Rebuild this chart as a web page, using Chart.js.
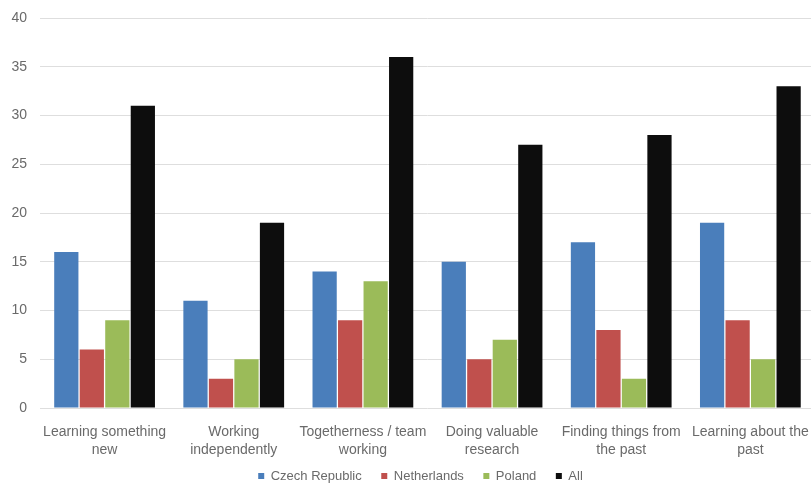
<!DOCTYPE html>
<html>
<head>
<meta charset="utf-8">
<script src="https://cdn.jsdelivr.net/npm/chart.js@4.4.1/dist/chart.umd.min.js"></script>
<style>
  html, body { margin: 0; padding: 0; background: #ffffff; overflow: hidden; }
  #wrap { width: 811px; height: 486px; overflow: hidden; }
  canvas { display: block; }
</style>
</head>
<body>
<div id="wrap"><canvas id="chart" width="824" height="486"></canvas></div>
<script>
// Categories (multi-line labels) and per-country counts
const categories = [
  ["Learning something", "new"],
  ["Working", "independently"],
  ["Togetherness / team", "working"],
  ["Doing valuable", "research"],
  ["Finding things from", "the past"],
  ["Learning about the", "past"]
];
const czechRepublic = [16, 11, 14, 15, 17, 19];
const netherlands   = [6, 3, 9, 5, 8, 9];
const poland        = [9, 5, 13, 7, 3, 5];
const allCountries  = [31, 19, 36, 27, 28, 33];
const yTicks = [0, 5, 10, 15, 20, 25, 30, 35, 40];

const textColor = '#6a6a6a';
const fontFamily = "'Liberation Sans', 'DejaVu Sans', sans-serif";

function series(label, data, color) {
  return {
    label: label,
    data: data,
    backgroundColor: color,
    borderWidth: 0,
    categoryPercentage: 0.79,
    barPercentage: 0.95
  };
}

// After layout: nudge the legend row, and let the category labels use the
// space below their (compact) axis box instead of being clipped
const layoutTweaks = {
  id: 'layoutTweaks',
  afterLayout(chart) {
    const lg = chart.legend;
    if (lg && !lg._moved) {
      lg.left += 10;
      lg.right += 10;
      lg.top += 6.5;
      lg.bottom += 6.5;
      lg._moved = true;
    }
    const xs = chart.scales.x;
    xs.bottom = chart.height;
    xs.height = xs.bottom - xs.top;
  }
};

new Chart(document.getElementById('chart'), {
  type: 'bar',
  data: {
    labels: categories,
    datasets: [
      series('Czech Republic', czechRepublic, '#4a7ebb'),
      series('Netherlands', netherlands, '#c0504d'),
      series('Poland', poland, '#9bbb59'),
      series('All', allCountries, '#0d0d0d')
    ]
  },
  plugins: [layoutTweaks],
  options: {
    responsive: false,
    animation: false,
    layout: { padding: { top: 18, right: 3, left: 0, bottom: 0 } },
    plugins: {
      tooltip: { enabled: false },
      legend: {
        position: 'bottom',
        labels: {
          boxWidth: 6,
          boxHeight: 6,
          padding: 19.5,
          color: textColor,
          font: { family: fontFamily, size: 13 }
        }
      }
    },
    scales: {
      x: {
        afterFit: (axis) => { axis.height = 35.5; },
        grid: { display: false, drawTicks: false },
        border: { display: false },
        ticks: {
          color: textColor,
          padding: 15,
          maxRotation: 0,
          autoSkip: false,
          font: { family: fontFamily, size: 14, lineHeight: '18px' }
        }
      },
      y: {
        min: 0,
        max: 40,
        afterBuildTicks: (axis) => { axis.ticks = yTicks.map(v => ({ value: v })); },
        afterFit: (axis) => {
          axis.width = 40;
          axis.paddingTop = 0;
          axis.paddingBottom = 0;
        },
        grid: { color: '#dedede', lineWidth: 1, drawTicks: false },
        border: { display: false },
        ticks: {
          color: textColor,
          padding: 13,
          font: { family: fontFamily, size: 14 }
        }
      }
    }
  }
});
</script>
</body>
</html>
